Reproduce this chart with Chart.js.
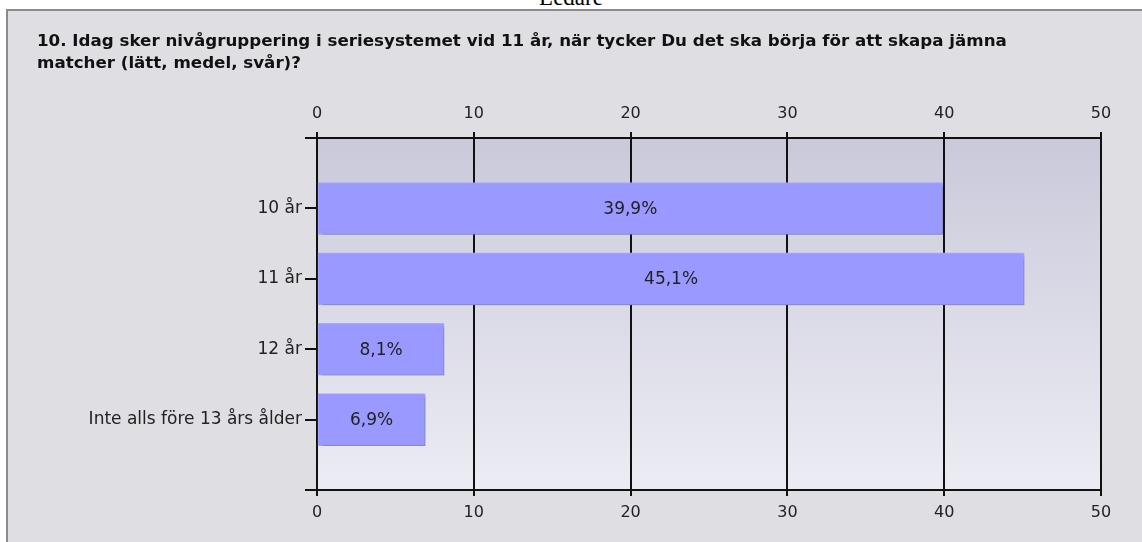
<!DOCTYPE html>
<html>
<head>
<meta charset="utf-8">
<script src="https://cdn.jsdelivr.net/npm/chart.js@4"></script>
<style>
  body { margin: 0; background: #fff; width: 1142px; height: 542px; overflow: hidden; position: relative; }
  #head { position: absolute; top: -15px; left: 0; width: 1142px; text-align: center;
          font-family: "Liberation Serif", serif; font-size: 23px; color: #000; }
  #panel { position: absolute; left: 6px; top: 9px; width: 1140px; height: 540px;
           background: #dfdee3; border-left: 2px solid #8a8a8a; border-top: 2px solid #8a8a8a; }
  #wrap { position: absolute; left: 0; top: 0; width: 1133px; height: 531px; }
</style>
</head>
<body>
<div id="head">Ledare</div>
<div id="panel"><div id="wrap"><canvas id="chart"></canvas></div></div>
<script>
const categories = ['10 år', '11 år', '12 år', 'Inte alls före 13 års ålder'];
const percentages = [39.9, 45.1, 8.1, 6.9];
const xTicks = [0, 10, 20, 30, 40, 50];
const titleLines = [
  '10. Idag sker nivågruppering i seriesystemet vid 11 år, när tycker Du det ska börja för att skapa jämna',
  'matcher (lätt, medel, svår)?'
];

// tom plats över och under staplarna
const labels = [''].concat(categories, ['']);
const values = [null].concat(percentages, [null]);

const fontFamily = '"DejaVu Sans", Verdana, sans-serif';

const plotStyle = {
  id: 'plotStyle',
  beforeDraw(chart) {
    const { ctx, chartArea: a } = chart;
    const g = ctx.createLinearGradient(0, a.top, 0, a.bottom);
    g.addColorStop(0, '#cac9da');
    g.addColorStop(1, '#ececf4');
    ctx.save();
    ctx.fillStyle = g;
    ctx.fillRect(a.left, a.top, a.right - a.left, a.bottom - a.top);
    ctx.restore();
  },
  beforeDatasetsDraw(chart) {
    const ctx = chart.ctx;
    ctx.save();
    ctx.shadowColor = 'rgba(0,0,0,0.22)';
    ctx.shadowOffsetX = 3;
    ctx.shadowOffsetY = 3;
    ctx.shadowBlur = 3;
  },
  afterDatasetsDraw(chart) {
    const ctx = chart.ctx;
    ctx.restore();
    ctx.save();
    ctx.font = '17px ' + fontFamily;
    ctx.fillStyle = '#222';
    ctx.textAlign = 'center';
    ctx.textBaseline = 'middle';
    chart.getDatasetMeta(0).data.forEach((bar, i) => {
      const v = values[i];
      if (v == null) return;
      ctx.fillText(v.toFixed(1).replace('.', ',') + '%', (bar.base + bar.x) / 2, bar.y + 1);
    });
    ctx.restore();
  }
};

const xAxis = (position, onArea, pad) => ({
  type: 'linear',
  position: position,
  min: 0,
  max: 50,
  afterBuildTicks: (s) => { s.ticks = xTicks.map(v => ({ value: v })); },
  grid: { display: true, drawOnChartArea: onArea, color: '#111', lineWidth: 2, tickLength: 6 },
  border: { display: true, color: '#111', width: 2 },
  ticks: { color: '#222', font: { family: fontFamily, size: 16 }, padding: pad }
});

new Chart(document.getElementById('chart'), {
  type: 'bar',
  data: {
    labels: labels,
    datasets: [{
      data: values,
      backgroundColor: '#9999ff',
      borderColor: '#a9a9ff',
      borderWidth: 1,
      borderSkipped: false,
      barThickness: 52,
      xAxisID: 'x'
    }]
  },
  options: {
    indexAxis: 'y',
    responsive: true,
    maintainAspectRatio: false,
    animation: false,
    layout: { padding: { left: 29, right: 40, top: 0, bottom: 0 } },
    plugins: {
      legend: { display: false },
      tooltip: { enabled: false },
      title: {
        display: true,
        text: titleLines,
        align: 'start',
        color: '#111',
        font: { family: fontFamily, size: 16.7, weight: 'bold', lineHeight: 1.32 },
        padding: { top: 20, bottom: 0 }
      }
    },
    scales: {
      x: Object.assign(xAxis('top', true, 9), {
        afterFit: (s) => { s.height = 63; }
      }),
      x2: Object.assign(xAxis('bottom', false, 7), {
        afterFit: (s) => { s.height = 52; }
      }),
      y: {
        type: 'category',
        offset: false,
        grid: { display: true, offset: false, drawOnChartArea: false, color: '#111', lineWidth: 2, tickLength: 12 },
        border: { display: true, color: '#111', width: 2 },
        ticks: { color: '#222', font: { family: fontFamily, size: 17 }, padding: 3, autoSkip: false },
        afterFit: (s) => { s.width = 280; }
      }
    }
  },
  plugins: [plotStyle]
});
</script>
</body>
</html>
